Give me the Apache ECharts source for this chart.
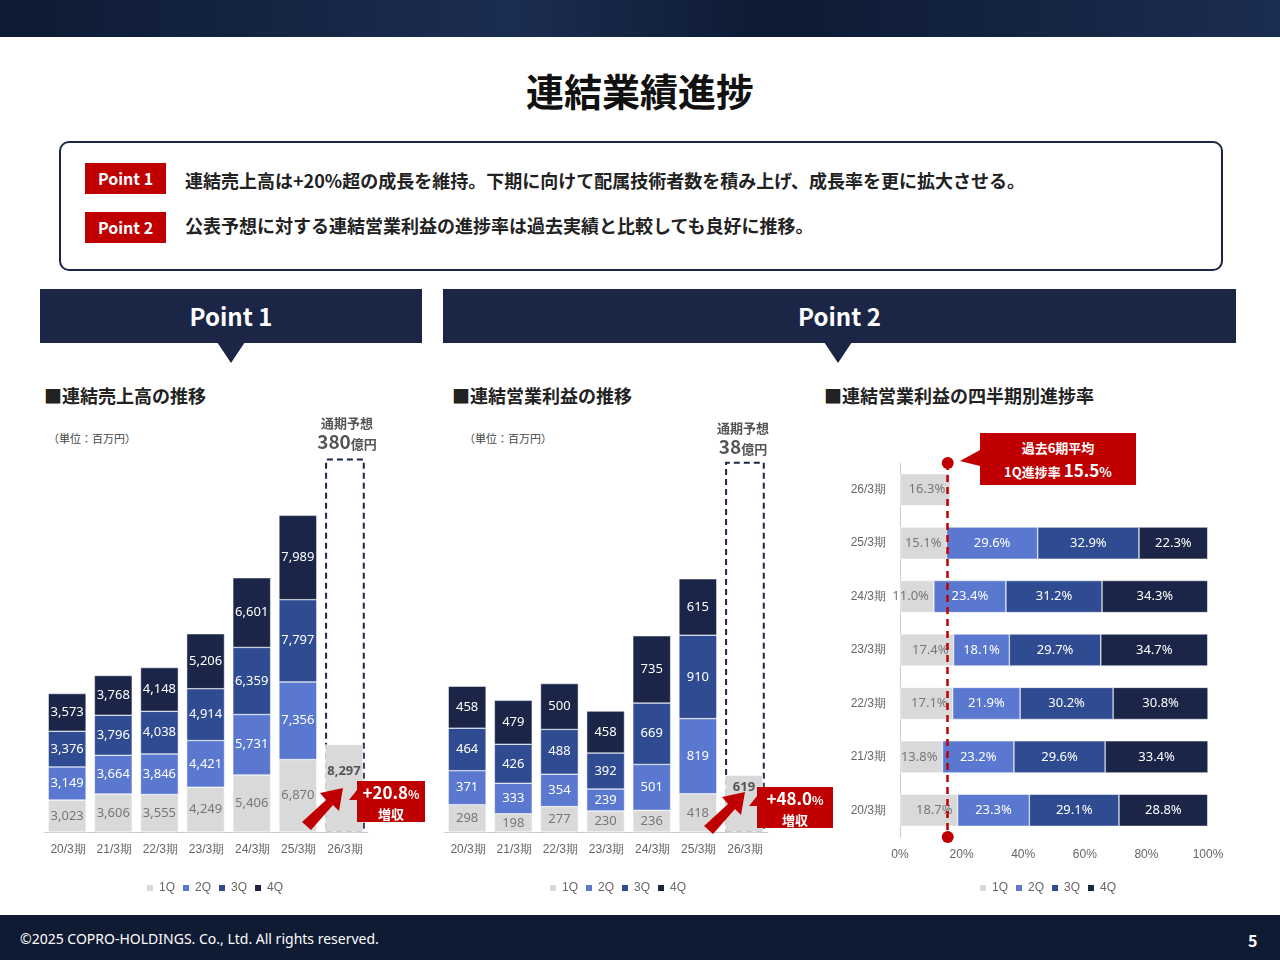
<!DOCTYPE html>
<html><head><meta charset="utf-8">
<script src="https://cdn.jsdelivr.net/npm/echarts@6/dist/echarts.min.js"></script>
<style>
body{margin:0;width:1280px;height:960px;position:relative;overflow:hidden;background:#fff;font-family:"Noto Sans CJK JP","Noto Sans",sans-serif;}
.a{position:absolute;}
#chart{position:absolute;left:0;top:0;width:1280px;height:960px;}
.badge{position:absolute;background:#c00000;color:#fff;font-weight:bold;font-size:16px;width:81px;height:31px;line-height:31px;text-align:center;}
.pt{position:absolute;font-size:18px;font-weight:bold;color:#222;}
.ban{position:absolute;background:#1b2647;color:#fff;font-weight:bold;font-size:24px;text-align:center;height:54px;line-height:54px;top:289px;}
.sub{position:absolute;font-size:18px;font-weight:bold;color:#222;top:382px;}
.red{position:absolute;background:#c00000;color:#fff;font-weight:bold;text-align:center;}
</style></head><body>
<div class="a" style="left:0;top:0;width:1280px;height:37px;background:linear-gradient(90deg,#0d1a33,#1b2d50 40%,#0d1a33 60%,#1b2d50);"></div>
<div class="a" style="left:0;top:915px;width:1280px;height:45px;background:#0f1b33;"></div>
<div class="a" style="left:20px;top:929px;color:#fff;font-size:14px;font-family:'Noto Sans',sans-serif;">©2025 COPRO-HOLDINGS. Co., Ltd. All rights reserved.</div>
<div class="a" style="left:1248px;top:928px;color:#fff;font-size:16px;font-weight:bold;">5</div>
<div class="a" style="left:0;width:1280px;top:62px;text-align:center;font-size:38px;font-weight:bold;color:#111;">連結業績進捗</div>
<div class="a" style="left:59px;top:141px;width:1160px;height:126px;border:2px solid #1b2647;border-radius:10px;"></div>
<div class="badge" style="left:85px;top:163px;">Point 1</div>
<div class="badge" style="left:85px;top:212px;">Point 2</div>
<div class="pt" style="left:185px;top:167px;">連結売上高は+20%超の成長を維持。下期に向けて配属技術者数を積み上げ、成長率を更に拡大させる。</div>
<div class="pt" style="left:185px;top:212px;">公表予想に対する連結営業利益の進捗率は過去実績と比較しても良好に推移。</div>
<div class="ban" style="left:40px;width:382px;">Point 1</div>
<div class="ban" style="left:443px;width:793px;">Point 2</div>
<svg class="a" style="left:0;top:0" width="1280" height="960">
<polygon points="217,342 245,342 231,363" fill="#1b2647"/>
<polygon points="824,342 852,342 838,363" fill="#1b2647"/>
</svg>
<div class="sub" style="left:44px;">■連結売上高の推移</div>
<div class="sub" style="left:452px;">■連結営業利益の推移</div>
<div class="sub" style="left:824px;">■連結営業利益の四半期別進捗率</div>
<div class="a" style="left:48px;top:430px;font-size:11px;color:#444;">（単位：百万円）</div>
<div class="a" style="left:464px;top:430px;font-size:11px;color:#444;">（単位：百万円）</div>
<div id="chart"></div>
<div class="a" style="left:307px;top:414px;width:80px;text-align:center;color:#555;font-size:13px;font-weight:bold;line-height:18px;">通期予想<br><span style="font-size:19px;">380</span><span style="font-size:13px;">億円</span></div>
<div class="a" style="left:703px;top:419px;width:80px;text-align:center;color:#555;font-size:13px;font-weight:bold;line-height:18px;">通期予想<br><span style="font-size:19px;">38</span><span style="font-size:13px;">億円</span></div>
<svg class="a" style="left:0;top:0;z-index:5" width="1280" height="960">
<polygon points="302,822 326,800 320,793 343,788 339,811 333,805 311,830" fill="#c00000"/>
<polygon points="704,826 728,804 722,797 745,792 741,815 735,809 713,834" fill="#c00000"/>
<polygon points="357,790 349,800 357,800" fill="#c00000"/>
<polygon points="757,796 749,806 757,806" fill="#c00000"/>
<polygon points="980,450 960,461 980,466" fill="#c00000"/>
</svg>
<div class="red" style="left:357px;top:781px;width:68px;height:41px;z-index:6;line-height:18px;padding-top:2px;box-sizing:border-box;"><span style="font-size:17px;">+20.8</span><span style="font-size:12px;">%</span><br><span style="font-size:13px;">増収</span></div>
<div class="red" style="left:757px;top:787px;width:76px;height:41px;z-index:6;line-height:18px;padding-top:2px;box-sizing:border-box;"><span style="font-size:17px;">+48.0</span><span style="font-size:12px;">%</span><br><span style="font-size:13px;">増収</span></div>
<div class="red" style="left:980px;top:433px;width:156px;height:52px;z-index:6;line-height:22px;padding-top:4px;box-sizing:border-box;font-size:13px;">過去6期平均<br>1Q進捗率 <span style="font-size:17px;">15.5</span>%</div>
<script>
const years=['20/3期','21/3期','22/3期','23/3期','24/3期','25/3期','26/3期'];
const sales1Q=[3023,3606,3555,4249,5406,6870,8297];
const sales2Q=[3149,3664,3846,4421,5731,7356,null];
const sales3Q=[3376,3796,4038,4914,6359,7797,null];
const sales4Q=[3573,3768,4148,5206,6601,7989,null];
const salesForecastBox=[null,null,null,null,null,null,35400];
const op1Q=[298,198,277,230,236,418,619];
const op2Q=[371,333,354,239,501,819,null];
const op3Q=[464,426,488,392,669,910,null];
const op4Q=[458,479,500,458,735,615,null];
const opForecastBox=[null,null,null,null,null,null,4040];
const rateYears=['26/3期','25/3期','24/3期','23/3期','22/3期','21/3期','20/3期'];
const rate1Q=[16.3,15.1,11.0,17.4,17.1,13.8,18.7];
const rate2Q=[null,29.6,23.4,18.1,21.9,23.2,23.3];
const rate3Q=[null,32.9,31.2,29.7,30.2,29.6,29.1];
const rate4Q=[null,22.3,34.3,34.7,30.8,33.4,28.8];
const avg1Q=15.5;
const C=['#d9d9d9','#5a78cf','#2f4b91','#1a2548'];
const Q=['1Q','2Q','3Q','4Q'];
const fmtN=p=>p.value==null?'':Number(p.value).toLocaleString('en-US');
const fmtP=p=>p.value==null?'':p.value.toFixed(1)+'%';
function stackSeries(arrs,xi,stack,fmt,bw,horiz,dist){
 return arrs.map((d,i)=>({name:Q[i],type:'bar',stack:stack,xAxisIndex:xi,yAxisIndex:xi,barWidth:bw,
  data:d.map((v,j)=>(!horiz&&i==0&&j==d.length-1)?{value:v,label:{position:'insideTop',distance:dist,color:'#555',fontWeight:'bold'}}:v),
  itemStyle:{color:C[i],borderColor:'#fff',borderWidth:0.5},
  label:{show:true,position:i==0&&horiz?'insideRight':'inside',color:i==0?'#777':'#fff',fontSize:13,formatter:fmt,fontFamily:'Noto Sans'}}));
}
const boxSeries=(d,xi)=>({name:'box',type:'bar',xAxisIndex:xi,yAxisIndex:xi,data:d,barGap:'-100%',barWidth:'86%',z:1,
  itemStyle:{color:'rgba(0,0,0,0)',borderColor:'#1a2548',borderWidth:2,borderType:[6,4]},silent:true});
const catX=(gi)=>({type:'category',gridIndex:gi,data:years,axisTick:{show:false},axisLine:{lineStyle:{color:'#ccc'}},axisLabel:{color:'#666',fontSize:12,interval:0,margin:12}});
const valY=(gi,max)=>({type:'value',gridIndex:gi,min:0,max:max,show:false});
let series=[].concat(
 stackSeries([sales1Q,sales2Q,sales3Q,sales4Q],0,'s',fmtN,'82%',false,20),
 [boxSeries(salesForecastBox,0)],
 stackSeries([op1Q,op2Q,op3Q,op4Q],1,'o',fmtN,'82%',false,6),
 [boxSeries(opForecastBox,1)],
 stackSeries([rate1Q,rate2Q,rate3Q,rate4Q],2,'r',fmtP,'60%',true)
);
series[series.length-4].markLine={silent:true,symbol:['circle','circle'],symbolSize:12,label:{show:false},
 lineStyle:{color:'#c00000',type:[7,5],width:2.5},data:[{xAxis:avg1Q}]};
const lg=(l)=>({data:Q,left:l,top:877,icon:'rect',itemWidth:8,itemHeight:8,itemGap:6,textStyle:{color:'#666',fontSize:12},selectedMode:false});
const chart=echarts.init(document.getElementById('chart'));
chart.setOption({animation:false,
 legend:[lg(140),lg(543),lg(973)],
 grid:[{left:45,width:323,top:410,height:422},{left:445,width:323,top:447,height:385},{left:900,width:308,top:463,height:374}],
 xAxis:[catX(0),catX(1),{type:'value',gridIndex:2,min:0,max:100,interval:20,splitLine:{show:false},axisLabel:{color:'#666',fontSize:12,formatter:'{value}%',margin:12}}],
 yAxis:[valY(0,40000),valY(1,4200),{type:'category',inverse:true,gridIndex:2,data:rateYears,axisTick:{show:false},axisLine:{show:true,lineStyle:{color:'#ccc'}},axisLabel:{color:'#666',fontSize:12,margin:14}}],
 series:series});
</script></body></html>
